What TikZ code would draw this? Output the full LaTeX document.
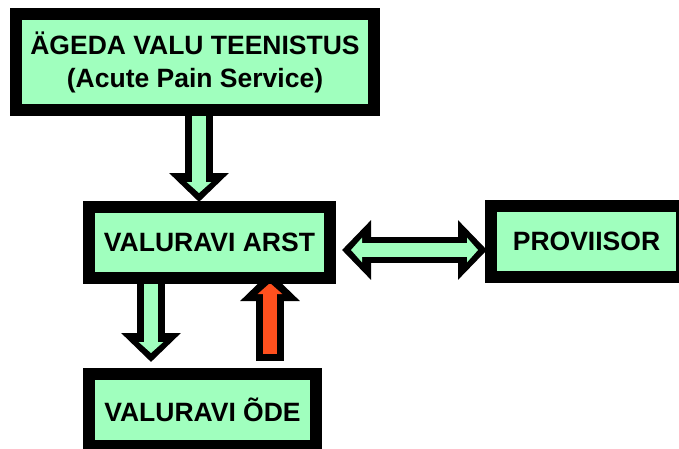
\documentclass[tikz,border=0pt]{standalone}
\usepackage{fontspec}
\setmainfont{Liberation Sans}
\usetikzlibrary{positioning,arrows.meta,backgrounds}
\definecolor{boxgreen}{RGB}{160,255,190}
\definecolor{arrowred}{RGB}{255,80,30}
\tikzset{bigtip/.tip={Triangle[width=58pt,length=29pt]},
         smalltip/.tip={Triangle[width=24pt,length=11pt]}}

\begin{document}
\begin{tikzpicture}[x=1pt,y=-1pt,
    box/.style={draw, line width=12pt, fill=boxgreen, inner sep=0pt,
                font=\fontsize{26.5}{33}\selectfont\bfseries, align=center},
    bigarrow/.style={line width=28pt, -bigtip},
    smallarrow/.style={line width=14pt, -smalltip, shorten >=9pt}]
    \clip (0,0) rectangle (679,448);

    % Kastid
    \node[box, minimum width=358pt, minimum height=96pt] (apt) at (195,62)
        {ÄGEDA VALU TEENISTUS\\(Acute Pain Service)};
    \node[box, minimum width=241pt, minimum height=71pt,
          below=85pt of apt, xshift=14.5pt] (arst) {VALURAVI ARST};
    \node[box, minimum width=191pt, minimum height=71pt,
          right=149pt of arst, yshift=1pt] (prov) {PROVIISOR};
    \node[box, minimum width=227pt, minimum height=72pt,
          below=84pt of arst, xshift=-7pt] (ode) {VALURAVI ÕDE};

    % Nooled
    \coordinate (a1) at ([xshift=4pt]apt.south);
    \coordinate (a2) at ([xshift=-58.5pt]arst.south);
    \coordinate (a3) at ([xshift=60.5pt]arst.south);
    \coordinate (a4) at ([yshift=-7.5pt]arst.east);

    \begin{scope}[on background layer]
    \draw[bigarrow, shorten >=-1pt] (a1) -- (a1 |- arst.north);
    \draw[smallarrow, boxgreen, shorten >=8pt] (a1) -- (a1 |- arst.north);

    \draw[bigarrow, shorten >=6pt] (a2) -- (a2 |- ode.north);
    \draw[smallarrow, boxgreen, shorten >=15pt] (a2) -- (a2 |- ode.north);

    \draw[bigarrow, shorten <=7pt, shorten >=-12pt] (a3 |- ode.north) -- (a3);
    \draw[smallarrow, arrowred, shorten <=14pt, shorten >=-1pt] (a3 |- ode.north) -- (a3);

    \draw[line width=26pt, bigtip-bigtip, shorten <=6pt, shorten >=-2pt]
        (a4) -- (a4 -| prov.west);
    \draw[line width=14pt, boxgreen, smalltip-smalltip, shorten <=15pt, shorten >=7pt]
        (a4) -- (a4 -| prov.west);
    \end{scope}
\end{tikzpicture}
\end{document}
